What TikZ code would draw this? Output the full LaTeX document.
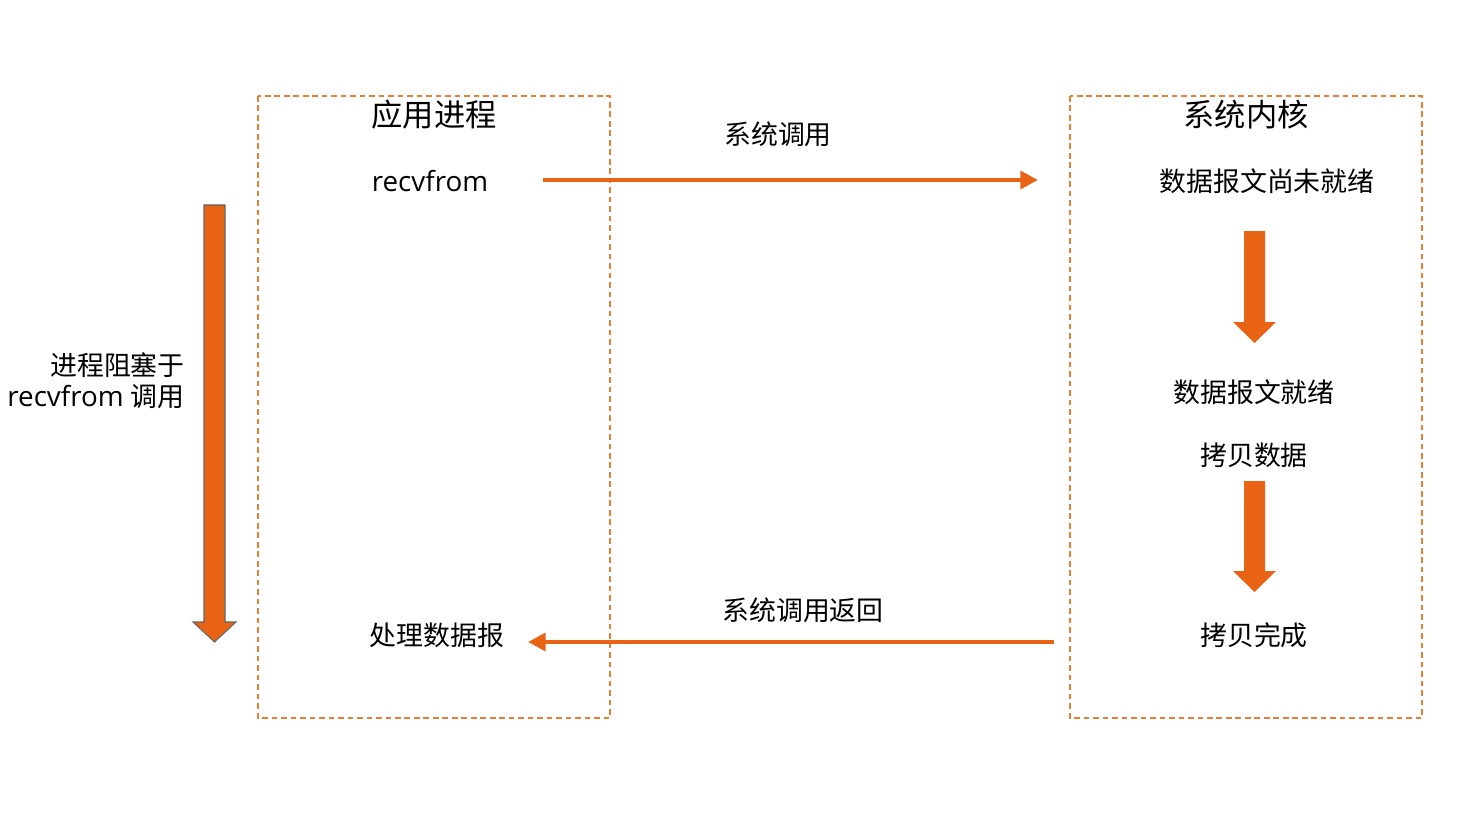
\documentclass[tikz,border=0pt]{standalone}
\usepackage{fontspec}
\setmainfont{Open Sans}
\newfontfamily\cjk{Noto Sans CJK SC}
\usetikzlibrary{arrows.meta}
\definecolor{arrorange}{RGB}{232,99,20}
\definecolor{boxorange}{RGB}{237,125,49}
\tikzset{
  lbl/.style={font=\cjk\fontsize{15.3}{18}\selectfont, inner sep=0pt, anchor=center},
  lat/.style={font=\fontsize{15.8}{18}\selectfont, inner sep=0pt, anchor=center},
  ttl/.style={font=\cjk\fontsize{17.8}{20}\selectfont, inner sep=0pt, anchor=center},
  dbox/.style={draw=boxorange, line width=0.8pt, dash pattern=on 3.2pt off 2.2pt},
  flow/.style={draw=arrorange, line width=2.4pt, -{Triangle[length=10pt,width=10pt]}},
  bigarrow/.style={fill=arrorange},
}
\begin{document}
\begin{tikzpicture}[x=0.02cm,y=-0.02cm]
\useasboundingbox (0,0) rectangle (1465,828);
% boxes
\draw[dbox] (258,96) rectangle (610,718);
\draw[dbox] (1070,96) rectangle (1422,718);
% titles
\node[ttl] (app) at (434,115) {应用进程};
\node[ttl] (kern) at (1246,115) {系统内核};
% left box texts
\node[lat] (recv) at (430,181) {recvfrom};
\node[lbl] (proc) at (437,635) {处理数据报};
% right box texts
\node[lbl] (notready) at (1267,181) {数据报文尚未就绪};
\node[lbl] (ready) at (1254,392) {数据报文就绪};
\node[lbl] (copy) at (1254,455) {拷贝数据};
\node[lbl] (done) at (1254,635) {拷贝完成};
% middle labels
\node[lbl] (call) at (778,134) {系统调用};
\node[lbl] (ret) at (803,610) {系统调用返回};
% left label
\node[lbl] (block1) at (185,365) [anchor=east] {进程阻塞于};
\node[font=\fontsize{15.8}{18}\selectfont, inner sep=0pt, anchor=east] (block2) at (185,397) {recvfrom {\cjk\fontsize{15.3}{18}\selectfont 调用}};
% connectors
\coordinate (c1s) at (543,180);
\coordinate (c1e) at (1038,180);
\coordinate (c2s) at (1054,642);
\coordinate (c2e) at (528,642);
\draw[flow] (c1s) -- (c1e);
\draw[flow] (c2s) -- (c2e);
% big left arrow
\path[bigarrow, draw=gray!80!black, line width=0.6pt]
  (204,205) -- (225,205) -- (225,622) -- (236,622) -- (214.5,642) -- (193,622) -- (204,622) -- cycle;
% right arrows
\path[bigarrow] (1244,231) -- (1265,231) -- (1265,322) -- (1276,322) -- (1254.5,343) -- (1233,322) -- (1244,322) -- cycle;
\path[bigarrow] (1244,481) -- (1265,481) -- (1265,571) -- (1276,571) -- (1254.5,592) -- (1233,571) -- (1244,571) -- cycle;
\end{tikzpicture}
\end{document}
